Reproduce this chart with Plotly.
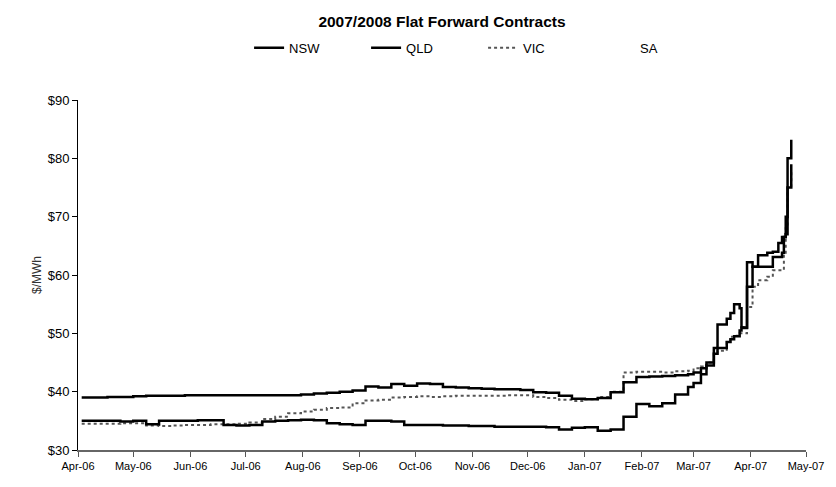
import plotly.graph_objects as go

# Trading dates (weekly through February, then the March-April 2007 run-up)
dates = [
    "2006-04-03", "2006-04-10", "2006-04-17", "2006-04-24", "2006-05-01", "2006-05-08",
    "2006-05-15", "2006-05-22", "2006-05-29", "2006-06-05", "2006-06-12", "2006-06-19",
    "2006-06-26", "2006-07-03", "2006-07-10", "2006-07-17", "2006-07-24", "2006-07-31",
    "2006-08-07", "2006-08-14", "2006-08-21", "2006-08-28", "2006-09-04", "2006-09-11",
    "2006-09-18", "2006-09-25", "2006-10-02", "2006-10-09", "2006-10-16", "2006-10-23",
    "2006-10-30", "2006-11-06", "2006-11-13", "2006-11-20", "2006-11-27", "2006-12-04",
    "2006-12-11", "2006-12-18", "2006-12-25", "2007-01-01", "2007-01-08", "2007-01-15",
    "2007-01-22", "2007-01-29", "2007-02-05", "2007-02-12", "2007-02-19", "2007-02-26",
    "2007-03-01", "2007-03-05", "2007-03-08", "2007-03-12", "2007-03-14", "2007-03-19",
    "2007-03-21", "2007-03-23", "2007-03-26", "2007-03-27", "2007-03-28", "2007-03-30",
    "2007-04-02", "2007-04-05", "2007-04-10", "2007-04-13", "2007-04-16", "2007-04-18",
    "2007-04-19", "2007-04-20", "2007-04-21", "2007-04-23",
]

nsw = [
    39.0, 39.0, 39.1, 39.1, 39.2, 39.3, 39.3, 39.3, 39.4, 39.4, 39.4, 39.4,
    39.4, 39.4, 39.4, 39.4, 39.4, 39.5, 39.7, 39.8, 40.0, 40.2, 40.9, 40.7,
    41.3, 41.0, 41.4, 41.3, 40.8, 40.7, 40.6, 40.5, 40.4, 40.4, 40.3, 39.9,
    39.8, 39.3, 38.8, 38.7, 38.9, 39.9, 41.6, 42.5, 42.6, 42.7, 42.8, 43.0,
    43.3, 44.0, 45.0, 47.5, 51.5, 52.5, 53.5, 55.0, 54.3, 51.0, 50.9, 62.2,
    61.4, 63.4, 63.8, 64.0, 65.5, 66.5, 66.5, 67.0, 80.0, 83.2,
]

qld = [
    35.0, 35.0, 35.0, 34.9, 35.0, 34.4, 35.0, 35.0, 35.0, 35.1, 35.1, 34.3,
    34.2, 34.3, 34.9, 35.0, 35.1, 35.2, 35.1, 34.6, 34.4, 34.3, 35.0, 35.0,
    34.9, 34.3, 34.3, 34.3, 34.2, 34.2, 34.1, 34.1, 34.0, 34.0, 34.0, 34.0,
    33.9, 33.5, 33.8, 33.9, 33.3, 33.5, 35.7, 37.9, 37.5, 38.0, 39.5, 40.8,
    41.5, 43.0, 44.5, 46.5, 47.5, 48.5, 49.0, 49.5, 50.5, 51.0, 51.0, 58.0,
    61.4, 61.4, 61.4, 63.1, 63.1, 63.8, 66.5, 70.0, 75.0, 79.0,
]

vic = [
    34.5, 34.5, 34.5, 34.6, 34.6, 34.2, 34.1, 34.2, 34.3, 34.3, 34.4, 34.4,
    34.5, 34.7, 35.3, 35.7, 36.3, 36.6, 36.9, 37.2, 37.3, 38.0, 38.5, 38.6,
    39.0, 39.1, 39.2, 39.1, 39.2, 39.3, 39.3, 39.3, 39.3, 39.4, 39.4, 39.1,
    38.9, 38.6, 38.4, 38.7, 39.1, 40.0, 43.3, 43.4, 43.4, 43.3, 43.5, 43.6,
    44.0, 44.3, 45.0, 46.6, 47.0, 48.5, 49.4, 49.6, 50.0, 50.0, 50.0, 54.5,
    58.0, 59.1, 59.7, 60.8, 60.8, 60.8, 63.8, 68.0, 75.0, 78.0,
]

sa = [
    39.2, 39.1, 39.0, 39.2, 39.0, 39.1, 39.2, 39.3, 39.3, 39.3, 39.4, 39.4,
    39.4, 39.5, 39.5, 39.6, 39.6, 39.7, 39.8, 40.0, 40.1, 40.3, 40.5, 40.6,
    40.8, 40.8, 40.9, 40.9, 40.6, 40.5, 40.4, 40.3, 40.2, 40.2, 40.1, 39.8,
    39.6, 39.2, 38.9, 38.8, 39.0, 39.8, 41.5, 42.4, 42.5, 42.6, 42.7, 42.9,
    43.2, 43.8, 44.8, 47.0, 50.0, 51.5, 52.5, 53.5, 53.0, 51.0, 51.0, 60.0,
    60.5, 62.0, 62.5, 63.0, 64.0, 65.0, 65.5, 67.0, 78.0, 81.0,
]

y_ticks = [30, 40, 50, 60, 70, 80, 90]
y_tick_labels = ["$30", "$40", "$50", "$60", "$70", "$80", "$90"]

fig = go.Figure()

# SA is drawn in white, underneath the other regions
fig.add_trace(go.Scatter(
    x=dates, y=sa, name="SA", mode="lines", line_shape="hv",
    line=dict(color="#ffffff", width=2), legendrank=4,
))
fig.add_trace(go.Scatter(
    x=dates, y=vic, name="VIC", mode="lines", line_shape="hv",
    line=dict(color="#555555", width=2, dash="dot"), legendrank=3,
))
fig.add_trace(go.Scatter(
    x=dates, y=qld, name="QLD", mode="lines", line_shape="hv",
    line=dict(color="#000000", width=2.5), legendrank=2,
))
fig.add_trace(go.Scatter(
    x=dates, y=nsw, name="NSW", mode="lines", line_shape="hv",
    line=dict(color="#000000", width=2.5), legendrank=1,
))

fig.update_layout(
    width=836, height=487,
    margin=dict(l=78, r=21, t=100, b=37),
    paper_bgcolor="white", plot_bgcolor="white",
    font=dict(family="Arial, Liberation Sans, sans-serif", color="#000000"),
    title=dict(
        text="<b>2007/2008 Flat Forward Contracts</b>",
        x=0.5, xref="paper", xanchor="center",
        y=0.955, yref="container", yanchor="middle",
        font=dict(size=15.5),
    ),
    showlegend=True,
    legend=dict(
        orientation="h", x=0.235, xanchor="left", y=1.149, yanchor="middle",
        font=dict(size=13), entrywidth=72, entrywidthmode="pixels",
        bgcolor="rgba(0,0,0,0)",
    ),
    xaxis=dict(
        type="date",
        range=["2006-04-01", "2007-05-01"],
        dtick="M1", tick0="2006-04-01", tickformat="%b-%y",
        ticks="outside", ticklen=5, tickcolor="#555555",
        showline=True, linecolor="#666666", linewidth=1.5,
        showgrid=False, zeroline=False,
        tickfont=dict(size=11),
    ),
    yaxis=dict(
        range=[30, 90], tickvals=y_ticks, ticktext=y_tick_labels,
        ticks="outside", ticklen=5, tickcolor="#000000",
        showline=True, linecolor="#000000", linewidth=1,
        showgrid=False, zeroline=False,
        tickfont=dict(size=13),
        title=dict(text="$/MWh", font=dict(size=12, color="#333333"), standoff=3),
    ),
)

fig.write_html("out.html")
